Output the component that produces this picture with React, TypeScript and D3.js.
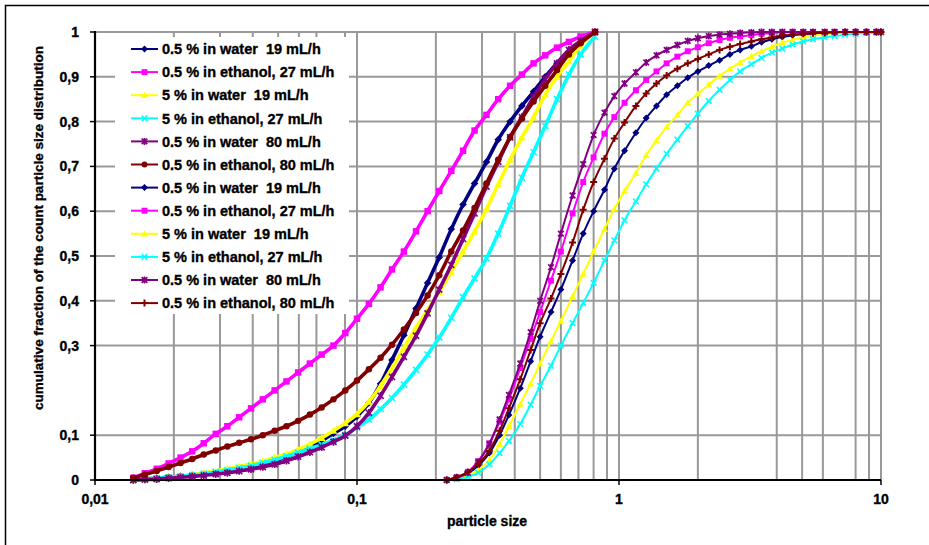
import React from "react";
import * as d3 from "d3";

// Particle sizes (bins) of the two measurement groups
const sizesA = [0.014, 0.0155, 0.0172, 0.0191, 0.0212, 0.0235, 0.026, 0.0289, 0.032, 0.0355, 0.0394, 0.0437, 0.0485, 0.0538, 0.0596, 0.0661, 0.0733, 0.0813, 0.0902, 0.1, 0.111, 0.123, 0.136, 0.151, 0.168, 0.186, 0.206, 0.229, 0.254, 0.281, 0.312, 0.346, 0.384, 0.426, 0.472, 0.523, 0.58, 0.644, 0.714, 0.81];
const sizesB = [0.22, 0.24, 0.265, 0.29, 0.32, 0.35, 0.38, 0.42, 0.46, 0.5, 0.55, 0.6, 0.665, 0.73, 0.8, 0.88, 0.96, 1.05, 1.16, 1.27, 1.39, 1.52, 1.67, 1.83, 2.0, 2.2, 2.42, 2.65, 2.9, 3.2, 3.5, 3.83, 4.2, 4.6, 5.05, 5.5, 6.1, 6.65, 7.3, 8.0, 8.8, 9.6, 10];

// Cumulative fractions, group A
const waterLow19A = [0, 0.002, 0.004, 0.006, 0.008, 0.011, 0.014, 0.017, 0.021, 0.025, 0.03, 0.036, 0.043, 0.052, 0.062, 0.074, 0.088, 0.104, 0.12, 0.142, 0.172, 0.215, 0.268, 0.323, 0.383, 0.44, 0.497, 0.56, 0.615, 0.662, 0.71, 0.76, 0.8, 0.835, 0.867, 0.9, 0.93, 0.955, 0.978, 1];
const ethanolLow27A = [0.005, 0.015, 0.025, 0.037, 0.05, 0.064, 0.082, 0.103, 0.12, 0.14, 0.16, 0.18, 0.2, 0.22, 0.24, 0.26, 0.28, 0.3, 0.328, 0.36, 0.393, 0.43, 0.47, 0.51, 0.555, 0.6, 0.645, 0.69, 0.735, 0.78, 0.815, 0.85, 0.88, 0.905, 0.93, 0.948, 0.965, 0.978, 0.99, 1];
const waterHigh19A = [0, 0.002, 0.004, 0.006, 0.009, 0.012, 0.016, 0.02, 0.025, 0.03, 0.036, 0.042, 0.05, 0.058, 0.068, 0.08, 0.094, 0.11, 0.127, 0.147, 0.175, 0.21, 0.25, 0.295, 0.34, 0.38, 0.42, 0.465, 0.51, 0.555, 0.605, 0.66, 0.715, 0.765, 0.81, 0.86, 0.9, 0.935, 0.97, 1];
const ethanolHigh27A = [0, 0.002, 0.004, 0.006, 0.008, 0.011, 0.014, 0.018, 0.022, 0.027, 0.032, 0.038, 0.045, 0.053, 0.061, 0.07, 0.079, 0.089, 0.101, 0.117, 0.135, 0.158, 0.183, 0.213, 0.246, 0.28, 0.318, 0.362, 0.408, 0.45, 0.495, 0.55, 0.612, 0.675, 0.732, 0.79, 0.85, 0.905, 0.95, 0.99];
const waterLow80A = [0, 0.001, 0.002, 0.004, 0.006, 0.008, 0.01, 0.013, 0.016, 0.02, 0.024, 0.029, 0.035, 0.043, 0.052, 0.062, 0.073, 0.085, 0.099, 0.12, 0.15, 0.188, 0.23, 0.275, 0.322, 0.372, 0.425, 0.48, 0.538, 0.595, 0.655, 0.71, 0.765, 0.81, 0.855, 0.895, 0.93, 0.96, 0.98, 1];
const ethanolLow80A = [0.005, 0.012, 0.02, 0.029, 0.038, 0.047, 0.057, 0.066, 0.075, 0.083, 0.091, 0.1, 0.11, 0.12, 0.132, 0.146, 0.162, 0.18, 0.2, 0.222, 0.247, 0.273, 0.302, 0.336, 0.373, 0.412, 0.457, 0.51, 0.557, 0.607, 0.662, 0.715, 0.765, 0.807, 0.845, 0.88, 0.915, 0.95, 0.975, 1];

// Cumulative fractions, group B
const waterLow19B = [0, 0.005, 0.015, 0.032, 0.06, 0.1, 0.145, 0.205, 0.265, 0.32, 0.375, 0.425, 0.49, 0.55, 0.6, 0.648, 0.695, 0.735, 0.775, 0.808, 0.835, 0.86, 0.88, 0.898, 0.912, 0.925, 0.937, 0.95, 0.96, 0.968, 0.977, 0.984, 0.989, 0.993, 0.995, 0.997, 0.998, 0.999, 1, 1, 1, 1, 1];
const ethanolLow27B = [0, 0.006, 0.018, 0.042, 0.082, 0.13, 0.18, 0.25, 0.315, 0.375, 0.445, 0.51, 0.595, 0.665, 0.72, 0.773, 0.81, 0.842, 0.87, 0.893, 0.912, 0.93, 0.945, 0.957, 0.966, 0.975, 0.982, 0.987, 0.99, 0.993, 0.996, 0.998, 0.999, 1, 1, 1, 1, 1, 1, 1, 1, 1, 1];
const waterHigh19B = [0, 0.003, 0.01, 0.022, 0.045, 0.08, 0.12, 0.17, 0.215, 0.26, 0.31, 0.355, 0.41, 0.46, 0.51, 0.56, 0.605, 0.645, 0.685, 0.725, 0.758, 0.788, 0.815, 0.842, 0.862, 0.883, 0.902, 0.918, 0.932, 0.946, 0.957, 0.967, 0.976, 0.983, 0.988, 0.992, 0.995, 0.997, 0.998, 0.999, 1, 1, 1];
const ethanolHigh27B = [0, 0.002, 0.007, 0.016, 0.035, 0.06, 0.087, 0.125, 0.168, 0.21, 0.255, 0.3, 0.35, 0.395, 0.44, 0.49, 0.535, 0.58, 0.622, 0.66, 0.695, 0.728, 0.76, 0.79, 0.818, 0.846, 0.871, 0.893, 0.912, 0.928, 0.942, 0.954, 0.963, 0.972, 0.979, 0.984, 0.988, 0.991, 0.994, 0.996, 0.998, 0.999, 1];
const waterLow80B = [0, 0.005, 0.016, 0.04, 0.08, 0.135, 0.19, 0.26, 0.33, 0.4, 0.475, 0.55, 0.635, 0.705, 0.77, 0.82, 0.857, 0.885, 0.91, 0.932, 0.948, 0.96, 0.971, 0.98, 0.986, 0.991, 0.994, 0.996, 0.998, 0.999, 1, 1, 1, 1, 1, 1, 1, 1, 1, 1, 1, 1, 1];
const ethanolLow80B = [0, 0.006, 0.018, 0.036, 0.065, 0.11, 0.16, 0.225, 0.29, 0.35, 0.405, 0.46, 0.53, 0.603, 0.665, 0.717, 0.762, 0.798, 0.835, 0.863, 0.885, 0.903, 0.918, 0.93, 0.94, 0.95, 0.96, 0.967, 0.973, 0.979, 0.984, 0.988, 0.992, 0.994, 0.996, 0.997, 0.998, 0.999, 1, 1, 1, 1, 1];

const seriesLabels = [
  "0.5 % in water  19 mL/h",
  "0.5 % in ethanol, 27 mL/h",
  "5 % in water  19 mL/h",
  "5 % in ethanol, 27 mL/h",
  "0.5 % in water  80 mL/h",
  "0.5 % in ethanol, 80 mL/h",
  "0.5 % in water  19 mL/h",
  "0.5 % in ethanol, 27 mL/h",
  "5 % in water  19 mL/h",
  "5 % in ethanol, 27 mL/h",
  "0.5 % in water  80 mL/h",
  "0.5 % in ethanol, 80 mL/h",
];
const seriesColors = ["#000080", "#FF00FF", "#FFFF00", "#00FFFF", "#800080", "#800000", "#000080", "#FF00FF", "#FFFF00", "#00FFFF", "#800080", "#800000"];
const seriesMarkers = ["diamond", "square", "triangle", "cross", "star", "circle", "diamond", "square", "triangle", "cross", "star", "plus"];
const seriesValues = [waterLow19A, ethanolLow27A, waterHigh19A, ethanolHigh27A, waterLow80A, ethanolLow80A, waterLow19B, ethanolLow27B, waterHigh19B, ethanolHigh27B, waterLow80B, ethanolLow80B];
const seriesSizes = [sizesA, sizesA, sizesA, sizesA, sizesA, sizesA, sizesB, sizesB, sizesB, sizesB, sizesB, sizesB];

// Axis ticks and visible grid lines
const xMajorTicks = [0.01, 0.1, 1, 10];
const xTickLabels = ["0,01", "0,1", "1", "10"];
const xGridValues = [0.02, 0.03, 0.04, 0.05, 0.06, 0.07, 0.09, 0.1, 0.2, 0.3, 0.4, 0.5, 0.6, 0.7, 0.8, 0.9, 1, 2, 4, 5, 6, 8, 9, 10];
const yTicks = [0, 0.1, 0.3, 0.4, 0.5, 0.6, 0.7, 0.8, 0.9, 1];
const yTickLabels = ["0", "0,1", "0,3", "0,4", "0,5", "0,6", "0,7", "0,8", "0,9", "1"];
const yGridValues = [0.1, 0.3, 0.4, 0.5, 0.6, 0.7, 0.8, 0.9, 1];

const FONT = "'Liberation Sans', Arial, sans-serif";
const textStyle = { fontWeight: 700, stroke: "#000", strokeWidth: 0.35 } as const;

function Marker({ type, color, cx, cy, s }: { type: string; color: string; cx: number; cy: number; s: number }) {
  const t = `translate(${cx},${cy})`;
  switch (type) {
    case "diamond":
      return <path transform={t} d={`M0,${-s}L${s},0L0,${s}L${-s},0Z`} fill={color} />;
    case "square":
      return <rect transform={t} x={-s * 0.85} y={-s * 0.85} width={s * 1.7} height={s * 1.7} fill={color} />;
    case "triangle":
      return <path transform={t} d={`M0,${-s}L${s},${s * 0.8}L${-s},${s * 0.8}Z`} fill={color} />;
    case "circle":
      return <circle transform={t} r={s * 0.85} fill={color} />;
    case "cross":
      return <path transform={t} d={`M${-s * 0.8},${-s * 0.8}L${s * 0.8},${s * 0.8}M${-s * 0.8},${s * 0.8}L${s * 0.8},${-s * 0.8}`} stroke={color} strokeWidth={1.6} fill="none" />;
    case "star":
      return <path transform={t} d={`M${-s * 0.8},${-s * 0.8}L${s * 0.8},${s * 0.8}M${-s * 0.8},${s * 0.8}L${s * 0.8},${-s * 0.8}M0,${-s}L0,${s}`} stroke={color} strokeWidth={1.7} fill="none" />;
    case "plus":
      return <path transform={t} d={`M${-s},0L${s},0M0,${-s}L0,${s}`} stroke={color} strokeWidth={2} fill="none" />;
    default:
      return null;
  }
}

export default function App() {
  const width = 929;
  const height = 545;
  const x = d3.scaleLog().domain([0.01, 10]).range([95, 881]);
  const y = d3.scaleLinear().domain([0, 1]).range([480, 32]);
  const line = d3
    .line<[number, number]>()
    .x((d) => x(d[0]))
    .y((d) => y(d[1]))
    .curve(d3.curveMonotoneX);

  const legendRowY = (i: number) => 49 + i * 23.1;

  return (
    <svg width={width} height={height} style={{ position: "absolute", left: 0, top: 0, background: "#fff" }} fontFamily={FONT}>
      <rect x={0} y={0} width={width} height={height} fill="#fff" />
      {/* outer frame */}
      <rect x={5.5} y={5.5} width={width + 10} height={height + 10} fill="none" stroke="#000" strokeWidth={1.5} />

      {/* grid */}
      {xGridValues.map((v) => (
        <line key={"gx" + v} x1={x(v)} x2={x(v)} y1={y(0)} y2={y(1)} stroke="#999" strokeWidth={2} />
      ))}
      {yGridValues.map((v) => (
        <line key={"gy" + v} x1={x(0.01)} x2={x(10)} y1={y(v)} y2={y(v)} stroke="#999" strokeWidth={2} />
      ))}

      {/* legend background */}
      <rect x={115} y={37} width={234} height={277} fill="#fff" />

      {/* series */}
      {seriesValues.map((vals, i) => {
        const pts: [number, number][] = vals.map((v, j) => [seriesSizes[i][j], v]);
        const groupA = i < 6;
        return (
          <g key={"s" + i}>
            <path d={line(pts) || ""} fill="none" stroke={seriesColors[i]} strokeWidth={groupA ? 3.6 : 2} />
            {pts.map((p, j) => (
              <Marker key={j} type={seriesMarkers[i]} color={seriesColors[i]} cx={x(p[0])} cy={y(p[1])} s={groupA ? 3.8 : 3.5} />
            ))}
          </g>
        );
      })}

      {/* axes */}
      <line x1={x(0.01)} x2={x(0.01)} y1={y(1) - 1} y2={y(0) + 1} stroke="#000" strokeWidth={2.2} />
      <line x1={x(0.01)} x2={x(10)} y1={y(0)} y2={y(0)} stroke="#000" strokeWidth={2.2} />
      {yTicks.map((v, i) => (
        <g key={"yt" + v}>
          <line x1={x(0.01) - 5} x2={x(0.01)} y1={y(v)} y2={y(v)} stroke="#000" strokeWidth={1.5} />
          <text x={79} y={y(v)} dy="0.36em" textAnchor="end" fontSize={14} style={textStyle}>
            {yTickLabels[i]}
          </text>
        </g>
      ))}
      {xMajorTicks.map((v, i) => (
        <g key={"xt" + v}>
          <line x1={x(v)} x2={x(v)} y1={y(0)} y2={y(0) + 5} stroke="#000" strokeWidth={1.5} />
          <text x={x(v)} y={504} textAnchor="middle" fontSize={14} style={textStyle}>
            {xTickLabels[i]}
          </text>
        </g>
      ))}

      {/* axis titles */}
      <text x={487} y={526} textAnchor="middle" fontSize={14} style={textStyle}>
        particle size
      </text>
      <text transform="translate(43,228) rotate(-90)" textAnchor="middle" fontSize={13.5} style={textStyle}>
        cumulative fraction of the count particle size distribution
      </text>

      {/* legend */}
      {seriesLabels.map((label, i) => {
        const ry = legendRowY(i);
        return (
          <g key={"lg" + i}>
            <line x1={131} x2={158} y1={ry} y2={ry} stroke={seriesColors[i]} strokeWidth={2} />
            <Marker type={seriesMarkers[i]} color={seriesColors[i]} cx={144.5} cy={ry} s={3.5} />
            <text x={162} y={ry} dy="0.36em" fontSize={14.5} style={{ ...textStyle, whiteSpace: "pre" }}>
              {label}
            </text>
          </g>
        );
      })}
    </svg>
  );
}
